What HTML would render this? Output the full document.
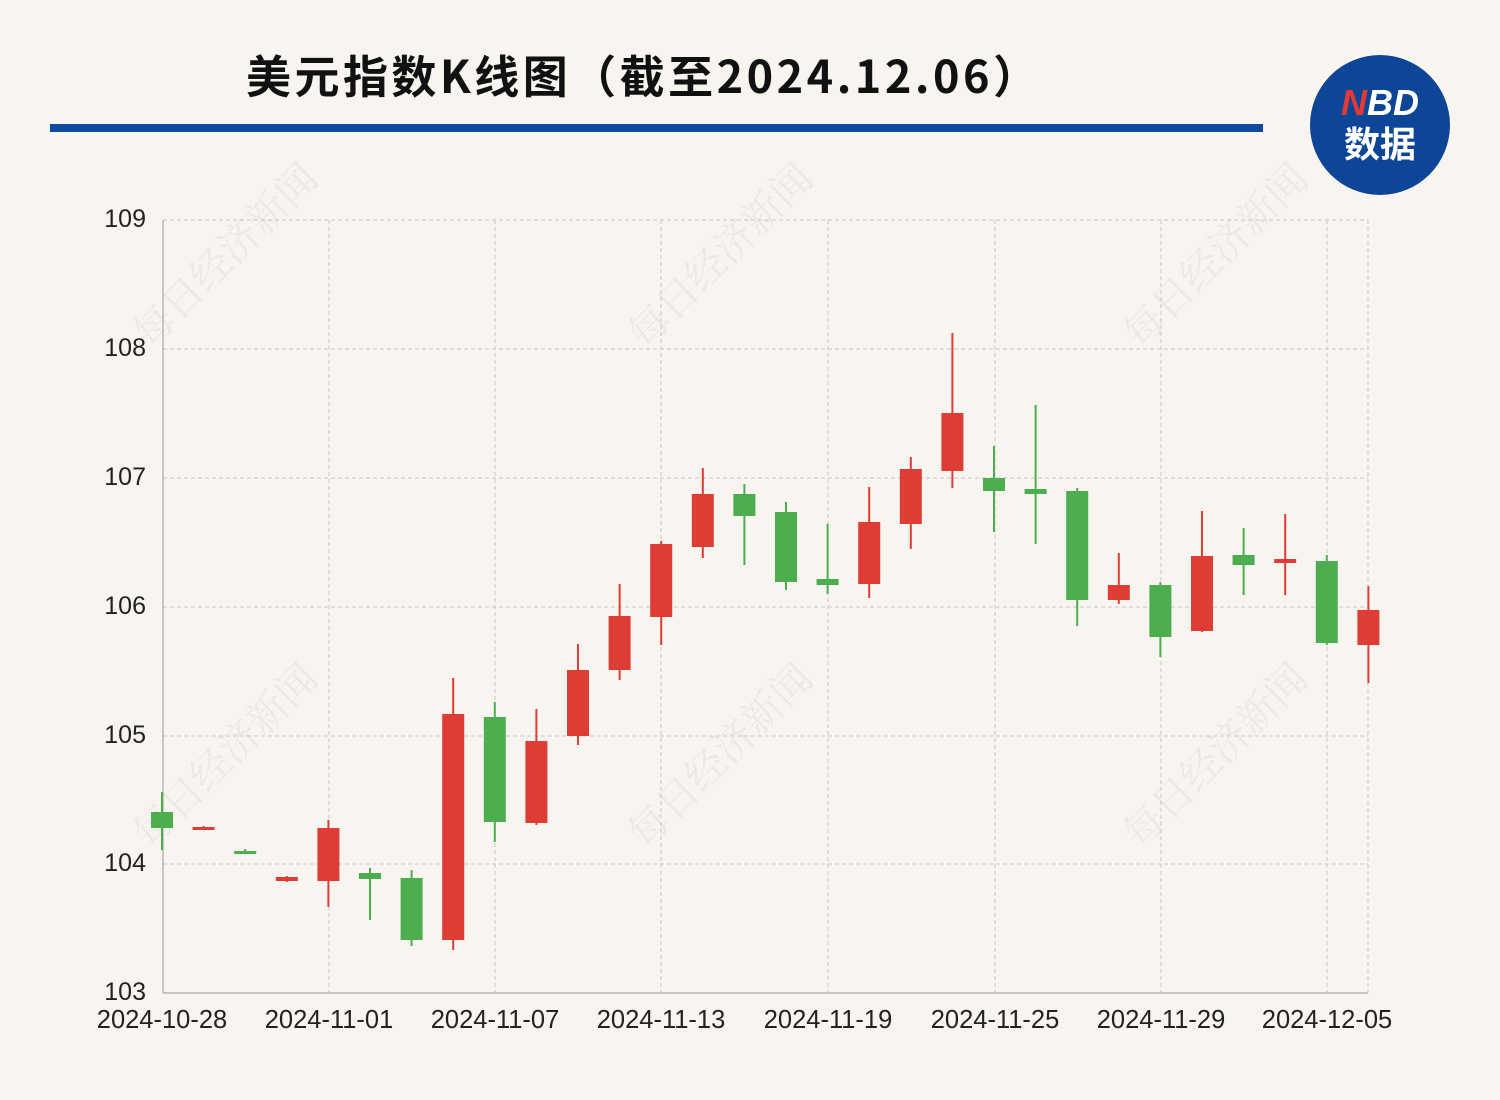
<!DOCTYPE html>
<html><head><meta charset="utf-8"><style>
html,body{margin:0;padding:0;background:#f8f5f0;}
body{width:1500px;height:1100px;overflow:hidden;position:relative;font-family:"Liberation Sans","Noto Sans CJK SC",sans-serif;}
</style></head><body>
<svg width="1500" height="1100" xmlns="http://www.w3.org/2000/svg" style="position:absolute;left:0;top:0">
<rect width="1500" height="1100" fill="#f8f5f0"/>
<text x="246" y="93" textLength="792" lengthAdjust="spacing" font-family="Noto Sans CJK SC, sans-serif" font-weight="bold" font-size="45" fill="#111">美元指数K线图（截至2024.12.06）</text>
<rect x="50" y="124" width="1213" height="8" fill="#0b4a9c"/>
<circle cx="1380" cy="125" r="70" fill="#0d4597"/>
<text x="1380" y="115" text-anchor="middle" font-family="Liberation Sans, sans-serif" font-weight="bold" font-style="italic" font-size="36" fill="#fff"><tspan fill="#e53935">N</tspan>BD</text>
<text x="1380" y="157" text-anchor="middle" font-family="Noto Sans CJK SC, sans-serif" font-weight="bold" font-size="36" fill="#fff">数据</text>
<g font-family="Noto Serif CJK SC, serif" font-size="40" fill="#000" opacity="0.05">
<text transform="translate(150,350) rotate(-45)">每日经济新闻</text>
<text transform="translate(645,350) rotate(-45)">每日经济新闻</text>
<text transform="translate(1140,350) rotate(-45)">每日经济新闻</text>
<text transform="translate(150,850) rotate(-45)">每日经济新闻</text>
<text transform="translate(645,850) rotate(-45)">每日经济新闻</text>
<text transform="translate(1140,850) rotate(-45)">每日经济新闻</text>
</g>
<g stroke="#c8c8c8" stroke-dasharray="4,3" stroke-width="1">
<line x1="163" x2="1368" y1="220" y2="220"/><line x1="163" x2="1368" y1="349" y2="349"/>
<line x1="163" x2="1368" y1="478" y2="478"/><line x1="163" x2="1368" y1="607" y2="607"/>
<line x1="163" x2="1368" y1="736" y2="736"/><line x1="163" x2="1368" y1="864" y2="864"/>
<line x1="329" x2="329" y1="220" y2="993"/><line x1="495" x2="495" y1="220" y2="993"/>
<line x1="661" x2="661" y1="220" y2="993"/><line x1="828" x2="828" y1="220" y2="993"/>
<line x1="995" x2="995" y1="220" y2="993"/><line x1="1161" x2="1161" y1="220" y2="993"/>
<line x1="1327" x2="1327" y1="220" y2="993"/><line x1="1368" x2="1368" y1="220" y2="993"/>
</g>
<line x1="163" x2="163" y1="220" y2="993" stroke="#999"/>
<line x1="163" x2="1368" y1="993" y2="993" stroke="#999"/>
<g font-family="Liberation Sans, sans-serif" font-size="25" fill="#222" text-anchor="end">
<text x="146" y="227">109</text><text x="146" y="356">108</text><text x="146" y="485">107</text>
<text x="146" y="614">106</text><text x="146" y="743">105</text><text x="146" y="871">104</text><text x="146" y="1000">103</text>
</g>
<g font-family="Liberation Sans, sans-serif" font-size="25.5" fill="#222" text-anchor="middle">
<text x="162" y="1028">2024-10-28</text><text x="329" y="1028">2024-11-01</text><text x="495" y="1028">2024-11-07</text>
<text x="661" y="1028">2024-11-13</text><text x="828" y="1028">2024-11-19</text><text x="995" y="1028">2024-11-25</text>
<text x="1161" y="1028">2024-11-29</text><text x="1327" y="1028">2024-12-05</text>
</g>
<g id="c"></g>
</svg>
<script>
var d=[["g",812,828,792,850],["r",827,829,826,830],["g",851,853,849,854],["r",877,881,876,882],["r",828,881,820,907],["g",873,879,868,920],["g",878,940,870,946],["r",714,940,678,950],["g",717,822,702,842],["r",741,823,709,825],["r",670,736,644,745],["r",616,670,584,680],["r",544,617,541,645],["r",494,547,468,558],["g",494,516,484,565],["g",512,582,502,590],["g",579,585,524,594],["r",522,584,487,598],["r",469,524,457,549],["r",413,471,333,488],["g",478,491,446,532],["g",489,494,405,544],["g",491,600,488,626],["r",585,600,553,604],["g",585,637,582,657],["r",556,631,511,632],["g",555,565,528,595],["r",559,563,514,595],["g",561,643,555,645],["r",610,645,586,683]];
var s="";for(var i=0;i<d.length;i++){var x=162+i*41.6,c=d[i][0]=="g"?"#4cae4f":"#dd3d35";
s+='<line x1="'+x+'" x2="'+x+'" y1="'+d[i][3]+'" y2="'+d[i][4]+'" stroke="'+c+'" stroke-width="2"/>';
s+='<rect x="'+(x-11)+'" y="'+d[i][1]+'" width="22" height="'+Math.max(3,d[i][2]-d[i][1])+'" fill="'+c+'"/>';}
document.getElementById("c").innerHTML=s;
</script>
</body></html>
